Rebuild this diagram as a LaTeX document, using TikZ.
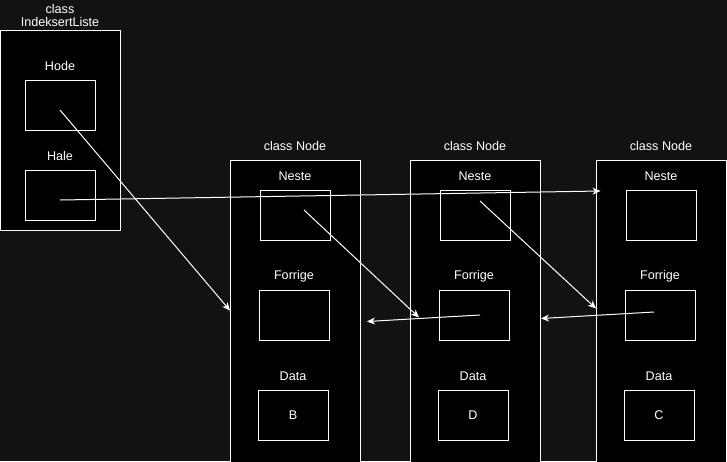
\documentclass[tikz,border=0pt]{standalone}
\usepackage{fontspec}
\setmainfont{Liberation Sans}
\usetikzlibrary{arrows.meta,calc}
\definecolor{bgc}{RGB}{18,18,18}
\tikzset{
  cont/.style={draw=white, fill=black, line width=1pt, inner sep=0pt, outer sep=0pt},
  field/.style={draw=white, fill=black, line width=1pt, minimum width=70pt, minimum height=50pt, inner sep=0pt, outer sep=0pt, text=white, font=\fontsize{12.6}{14.5}\selectfont},
  lbl/.style={text=white, font=\fontsize{12.6}{14.5}\selectfont, inner sep=0pt},
  ptr/.style={draw=white, line width=1pt, -{Stealth[length=8pt,width=7pt,inset=2.5pt]}}
}
\begin{document}
\begin{tikzpicture}[x=1pt,y=-1pt]
\useasboundingbox (0,0) rectangle (727,461);
\fill[bgc] (0,0) rectangle (727,461);
\clip (0,0) rectangle (727,461);
% IndeksertListe
\node[lbl, align=center] (ltitle) at (60,15.5) {class\\[-1.5pt]IndeksertListe};
\node[cont, minimum width=120pt, minimum height=200pt] (list) at (60,130) {};
\node[lbl] (hodel) at (60,66) {Hode};
\node[field] (hode) at (60,105) {};
\node[lbl] (halel) at (60,156) {Hale};
\node[field] (hale) at (60,195) {};
% Node 1
\node[lbl] (t1) at (295,146) {class Node};
\node[cont, minimum width=130pt, minimum height=303pt] (n1) at (295,311.5) {};
\node[lbl] (n1nl) at (295,176) {Neste};
\node[field] (n1n) at (295,215) {};
\node[lbl] (n1fl) at (294,276) {Forrige};
\node[field] (n1f) at (294,315) {};
\node[lbl] (n1dl) at (293,376) {Data};
\node[field] (n1d) at (293,415) {B};
% Node 2
\node[lbl] (t2) at (475,146) {class Node};
\node[cont, minimum width=130pt, minimum height=303pt] (n2) at (475,311.5) {};
\node[lbl] (n2nl) at (475,176) {Neste};
\node[field] (n2n) at (475,215) {};
\node[lbl] (n2fl) at (474,276) {Forrige};
\node[field] (n2f) at (474,315) {};
\node[lbl] (n2dl) at (473,376) {Data};
\node[field] (n2d) at (473,415) {D};
% Node 3
\node[lbl] (t3) at (661,146) {class Node};
\node[cont, minimum width=130pt, minimum height=303pt] (n3) at (661,311.5) {};
\node[lbl] (n3nl) at (661,176) {Neste};
\node[field] (n3n) at (661,215) {};
\node[lbl] (n3fl) at (660,276) {Forrige};
\node[field] (n3f) at (660,315) {};
\node[lbl] (n3dl) at (659,376) {Data};
\node[field] (n3d) at (659,415) {C};
% pointer ends
\coordinate (s1) at ($(hode.center)+(0,5)$);
\coordinate (e1) at ($(n1.west)+(0,-1)$);
\coordinate (s2) at ($(hale.center)+(0,5)$);
\coordinate (e2) at ($(n3.north west)+(4.5,31)$);
\coordinate (s3) at ($(n1n.center)+(9,-5)$);
\coordinate (e3) at ($(n2.west)+(9,6)$);
\coordinate (s4) at ($(n2f.center)+(6,0)$);
\coordinate (e4) at ($(n1.east)+(7,10)$);
\coordinate (s5) at ($(n2n.center)+(5,-14)$);
\coordinate (e5) at ($(n3.west)+(0,-3)$);
\coordinate (s6) at ($(n3f.center)+(-6,-3)$);
\coordinate (e6) at ($(n2.east)+(1,7)$);
\draw[ptr] (s1) -- (e1);
\draw[ptr] (s2) -- (e2);
\draw[ptr] (s3) -- (e3);
\draw[ptr] (s4) -- (e4);
\draw[ptr] (s5) -- (e5);
\draw[ptr] (s6) -- (e6);
\end{tikzpicture}
\end{document}
